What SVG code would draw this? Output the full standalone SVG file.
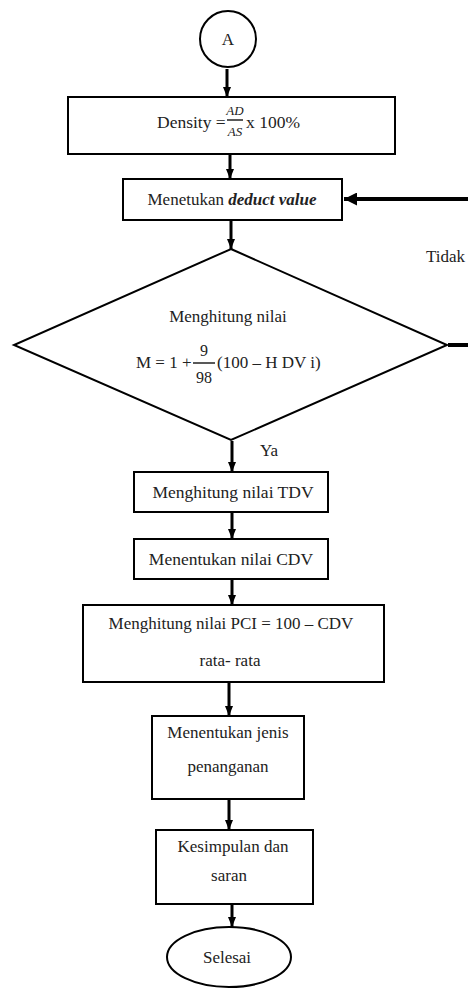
<svg xmlns="http://www.w3.org/2000/svg" width="468" height="990" viewBox="0 0 468 990">
<style>
.s{fill:#fff;stroke:#000;stroke-width:2}
.t{font-family:'Liberation Serif','Times New Roman',serif;font-size:17px;fill:#222}
.m{text-anchor:middle}
.c{stroke:#000;stroke-width:3;fill:none}
.h{stroke:#000;stroke-width:4;fill:none}
</style>
<defs>
<marker id="ah" viewBox="0 0 10 8" refX="10" refY="4" markerWidth="10" markerHeight="8" markerUnits="userSpaceOnUse" orient="auto">
<path d="M0,0 L10,4 L0,8 Z" fill="#000"/>
</marker>
<marker id="ahb" viewBox="0 0 13 13" refX="13" refY="6.5" markerWidth="13" markerHeight="13" markerUnits="userSpaceOnUse" orient="auto">
<path d="M0,0 L13,6.5 L0,13 Z" fill="#000"/>
</marker>
</defs>
<g id="connectors">
<line class="c" x1="227" y1="69" x2="227" y2="97" marker-end="url(#ah)"/>
<line class="c" x1="230" y1="155" x2="230" y2="179" marker-end="url(#ah)"/>
<line class="c" x1="231" y1="221" x2="231" y2="249" marker-end="url(#ah)"/>
<line class="c" x1="232" y1="441" x2="232" y2="472" marker-end="url(#ah)"/>
<line class="c" x1="232" y1="513" x2="232" y2="539" marker-end="url(#ah)"/>
<line class="c" x1="232" y1="580" x2="232" y2="605" marker-end="url(#ah)"/>
<line class="c" x1="229" y1="683" x2="229" y2="716" marker-end="url(#ah)"/>
<line class="c" x1="229" y1="800" x2="229" y2="830" marker-end="url(#ah)"/>
<line class="c" x1="232" y1="905" x2="232" y2="927" marker-end="url(#ah)"/>
<line class="h" x1="470" y1="199" x2="344" y2="199" marker-end="url(#ahb)"/>
<line class="h" x1="448" y1="345" x2="470" y2="345"/>
<text class="t" x="426" y="262">Tidak</text>
<text class="t" x="260" y="456">Ya</text>
</g>
<g id="start">
<circle class="s" cx="228" cy="39" r="28"/>
<text class="t m" x="228" y="45">A</text>
</g>
<g id="density">
<rect class="s" x="68" y="97" width="327" height="57"/>
<text class="t" x="157" y="128" style="font-size:17.5px">Density =</text>
<text class="t m" x="235" y="115" style="font-size:13px;font-style:italic">AD</text>
<line x1="227" y1="120" x2="243" y2="120" stroke="#222" stroke-width="1.5"/>
<text class="t m" x="235" y="136" style="font-size:13px;font-style:italic">AS</text>
<text class="t" x="246" y="128" style="font-size:17.5px">x 100%</text>
</g>
<g id="deduct">
<rect class="s" x="123" y="179" width="219" height="41"/>
<text class="t m" x="232" y="205">Menetukan <tspan style="font-weight:bold;font-style:italic">deduct value</tspan></text>
</g>
<g id="decision">
<polygon class="s" points="231,249 447,345 231,440 14,345"/>
<text class="t m" x="228" y="322">Menghitung nilai</text>
<text class="t" x="136" y="368">M = 1 +</text>
<text class="t m" x="204" y="356" style="font-size:16px">9</text>
<line x1="193" y1="363" x2="215" y2="363" stroke="#222" stroke-width="1.5"/>
<text class="t m" x="204" y="383" style="font-size:16px">98</text>
<text class="t" x="217" y="368">(100 – H DV i)</text>
</g>
<g id="tdv">
<rect class="s" x="134" y="472" width="194" height="40"/>
<text class="t m" x="233" y="498" style="font-size:17.5px">Menghitung nilai TDV</text>
</g>
<g id="cdv">
<rect class="s" x="134" y="539" width="194" height="40"/>
<text class="t m" x="231" y="565" style="font-size:17.5px">Menentukan nilai CDV</text>
</g>
<g id="pci">
<rect class="s" x="83" y="605" width="301" height="77"/>
<text class="t m" x="231" y="629">Menghitung nilai PCI = 100 – CDV</text>
<text class="t m" x="230" y="666">rata- rata</text>
</g>
<g id="jenis">
<rect class="s" x="152" y="716" width="152" height="83"/>
<text class="t m" x="228" y="738">Menentukan jenis</text>
<text class="t m" x="228" y="772">penanganan</text>
</g>
<g id="kesimpulan">
<rect class="s" x="156" y="830" width="157" height="74"/>
<text class="t m" x="233" y="852">Kesimpulan dan</text>
<text class="t m" x="229" y="881">saran</text>
</g>
<g id="selesai">
<ellipse class="s" cx="229" cy="957" rx="62" ry="30"/>
<text class="t m" x="227" y="963">Selesai</text>
</g>
</svg>
